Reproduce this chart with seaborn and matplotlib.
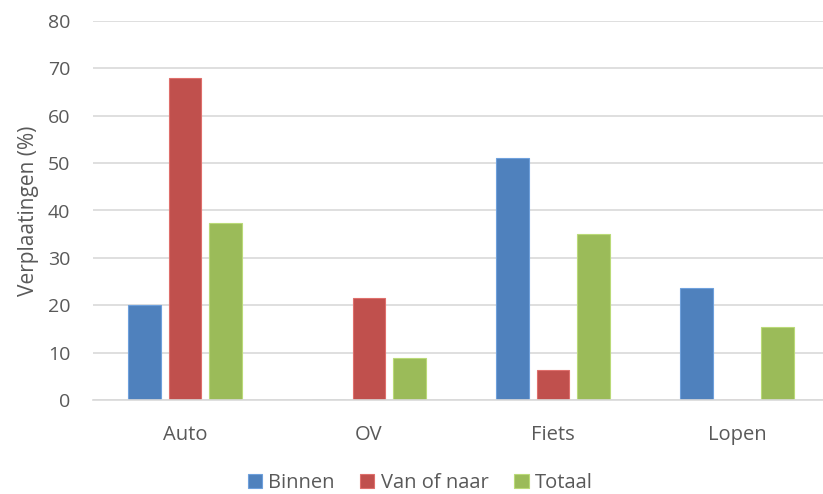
import matplotlib
matplotlib.use("Agg")
import matplotlib.pyplot as plt
import seaborn as sns
import pandas as pd

categories = ["Auto", "OV", "Fiets", "Lopen"]
series_names = ["Binnen", "Van of naar", "Totaal"]
binnen = [20.1, 0.0, 51.1, 23.7]
van_of_naar = [68.0, 21.5, 6.4, 0.0]
totaal = [37.3, 8.9, 35.0, 15.4]
y_ticks = [0, 10, 20, 30, 40, 50, 60, 70, 80]

colors = ["#4F81BD", "#C0504D", "#9BBB59"]
text_color = "#595959"
grid_color = "#D9D9D9"

rows = []
for name, vals in zip(series_names, [binnen, van_of_naar, totaal]):
    for cat, v in zip(categories, vals):
        rows.append({"Categorie": cat, "Reeks": name, "Waarde": v})
df = pd.DataFrame(rows)

sns.set_theme(style="white")
plt.rcParams["font.family"] = ["Open Sans", "DejaVu Sans"]

fig = plt.figure(figsize=(8.23, 4.94), dpi=100)
ax = fig.add_axes([93 / 823, 1 - 400 / 494, 736 / 823, 379 / 494])

sns.barplot(data=df, x="Categorie", y="Waarde", hue="Reeks",
            order=categories, hue_order=series_names, palette=colors,
            width=0.66, gap=0.2, saturation=1, ax=ax, legend=True)

for p in ax.patches:
    fc = p.get_facecolor()
    p.set_edgecolor((min(fc[0] + 0.12, 1), min(fc[1] + 0.12, 1), min(fc[2] + 0.12, 1), 1))
    p.set_linewidth(0.8)

ax.set_ylim(0, 80)
ax.set_xlim(-0.5, 3.5)
ax.set_yticks(y_ticks)
ax.set_yticklabels([str(t) for t in y_ticks])
ax.yaxis.grid(True, color=grid_color, linewidth=1.2)
ax.set_axisbelow(True)
for s in ["top", "right", "left"]:
    ax.spines[s].set_visible(False)
ax.spines["bottom"].set_color(grid_color)
ax.spines["bottom"].set_linewidth(1.2)

ax.tick_params(axis="y", length=0, pad=16.5, labelsize=14, labelcolor=text_color)
ax.tick_params(axis="x", length=0, pad=18, labelsize=14.5, labelcolor=text_color)
ax.set_xlabel("")
ax.set_ylabel("Verplaatingen (%)", fontsize=15, color=text_color, labelpad=6)

handles, labels = ax.get_legend_handles_labels()
ax.get_legend().remove()
fig.legend(handles, labels, loc="center", bbox_to_anchor=(420 / 823, 1 - 483 / 494),
           ncol=3, frameon=False, fontsize=14.5, labelcolor=text_color,
           handlelength=0.7, handleheight=0.7, handletextpad=0.3,
           columnspacing=1.3)

fig.savefig("out.png", dpi=100)
